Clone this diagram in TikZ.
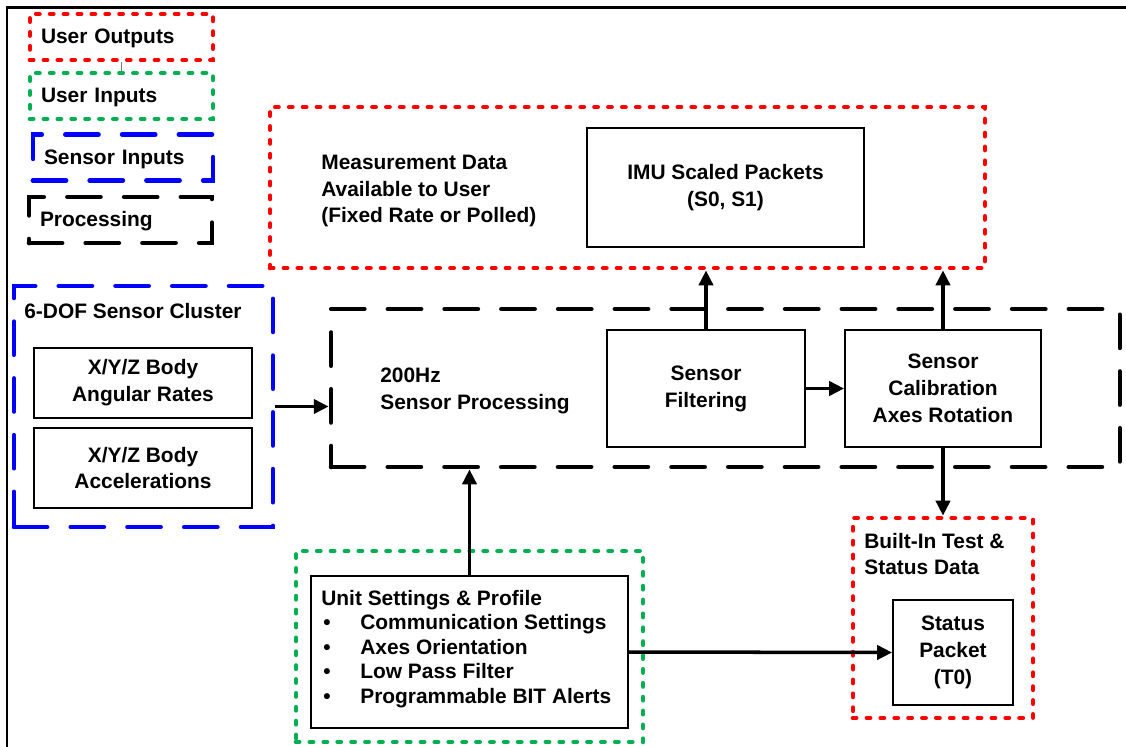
\documentclass[tikz,border=0pt]{standalone}
\usepackage{fontspec}
\setmainfont{Liberation Sans}
\usepackage{xcolor}
\usetikzlibrary{arrows.meta}
\definecolor{dotgreen}{RGB}{0,176,80}
\newcommand{\settingitem}[1]{\makebox[0.78cm][l]{\hspace{0.04cm}\textbullet}#1}

\begin{document}
\begin{tikzpicture}[x = 0.02cm, y = -0.02cm,
    txt/.style = {font = \bfseries\fontsize{11.9}{15.3}\selectfont, inner sep = 0},
    box/.style = {draw, line width = 1pt, txt, align = center},
    reddot/.style = {draw = red, line width = 2.7pt, line cap = round, dash pattern = on 1.8pt off 6.1pt},
    greendot/.style = {reddot, draw = dotgreen},
    bluedash/.style = {draw = blue, line width = 2.7pt, line cap = round, dash pattern = on 18.8pt off 13.5pt},
    blackdash/.style = {bluedash, draw = black},
    legend/.style = {txt, text width = 3.22cm, minimum height = 0.92cm, inner xsep = 0.22cm, align = left,
        text height = 1.4ex, text depth = 0pt},
    flow/.style = {->, line width = 2pt},
    >={Triangle[length = 8.5pt, width = 8pt]}]
    \useasboundingbox (0, 0) rectangle (1126, 747);
    \draw[line width = 1.7pt] (7, 747) -- (7, 7.5) -- (1126, 7.5);

    \node[legend, reddot] (outLeg) at (121.5, 37) {User Outputs};
    \node[legend, greendot] (inLeg) at (121.5, 96) {User Inputs};
    \node[legend, bluedash, text width = 3.16cm] (sensLeg) at (123, 157.5) {Sensor Inputs};
    \node[legend, blackdash] (procLeg) at (120.5, 220) {Processing};
    \draw[gray, line width = 0.5pt] (outLeg.south) -- (inLeg.north);

    \node[reddot, minimum width = 14.3cm, minimum height = 3.22cm] (meas) at (627.5, 187.5) {};
    \node[txt, align = left, anchor = west] (measTxt) at (321, 191) {Measurement Data\\Available to User\\(Fixed Rate or Polled)};
    \node[box, minimum width = 5.54cm, minimum height = 2.38cm] (imu) at (725.5, 187.5) {IMU Scaled Packets\\(S0, S1)};

    \node[bluedash, minimum width = 5.18cm, minimum height = 4.82cm] (cluster) at (143.5, 406.5) {};
    \node[txt, anchor = west] (clusterTxt) at (24, 311) {6-DOF Sensor Cluster};
    \node[box, minimum width = 4.36cm, minimum height = 1.4cm] (rates) at (143, 383) {X/Y/Z Body\\Angular Rates};
    \node[box, minimum width = 4.36cm, minimum height = 1.6cm] (accel) at (143, 468) {X/Y/Z Body\\Accelerations};

    \node[blackdash, minimum width = 15.78cm, minimum height = 3.16cm] (proc) at (725.5, 388) {};
    \node[txt, align = left, anchor = west] (procTxt) at (380, 390.5) {200Hz\\Sensor Processing};
    \node[box, minimum width = 3.96cm, minimum height = 2.34cm] (filt) at (706, 388.5) {Sensor\\Filtering};
    \node[box, minimum width = 3.92cm, minimum height = 2.34cm] (calib) at (943, 388.5) {Sensor\\Calibration\\Axes Rotation};

    \node[reddot, minimum width = 3.6cm, minimum height = 4cm] (bit) at (943, 618) {};
    \node[txt, align = left, anchor = west] (bitTxt) at (864, 554) {Built-In Test \&\\Status Data};
    \node[box, minimum width = 2.4cm, minimum height = 2.1cm] (status) at (953, 652.5) {Status\\Packet\\(T0)};

    \node[greendot, minimum width = 6.94cm, minimum height = 3.82cm] (unitGrp) at (469.5, 646.5) {};
    \node[box, minimum width = 6.34cm, minimum height = 3.04cm] (unit) at (469.5, 652) {};
    \node[txt, align = left, anchor = west, font = \bfseries\fontsize{11.9}{13.9}\selectfont] (unitTxt) at (321, 649)
        {Unit Settings \& Profile\\\settingitem{Communication Settings}\\\settingitem{Axes Orientation}\\\settingitem{Low Pass Filter}\\\settingitem{Programmable BIT Alerts}};

    \draw[flow] (cluster.east) -- (proc.west |- cluster.east);
    \draw[flow] (filt.east) -- (calib.west);
    \draw[flow] (filt.north) -- (filt.north |- meas.south);
    \draw[flow] (calib.north) -- (calib.north |- meas.south);
    \draw[flow] (calib.south) -- (bit.north);
    \draw[flow] (unit.north) -- (unit.north |- proc.south);
    \draw[flow] (unit.east) -- (status.west);
\end{tikzpicture}
\end{document}
